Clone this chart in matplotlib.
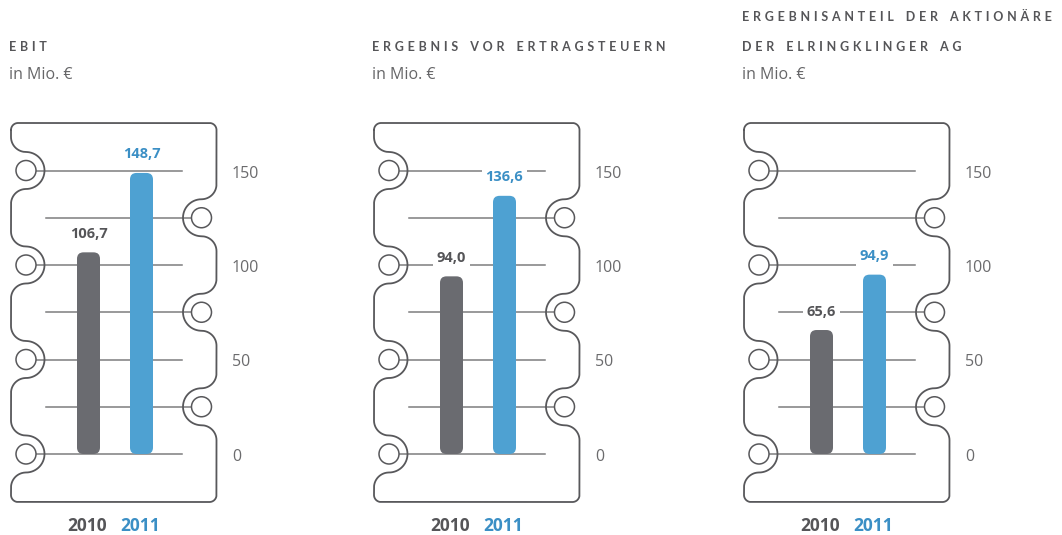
import numpy as np
import matplotlib
matplotlib.use("Agg")
import matplotlib.pyplot as plt
from matplotlib.patches import Circle, FancyBboxPatch

# chart data
titles = [["EBIT"],
          ["ERGEBNIS VOR ERTRAGSTEUERN"],
          ["ERGEBNISANTEIL DER AKTIONÄRE", "DER ELRINGKLINGER AG"]]
unit_label = "in Mio. €"
years = ["2010", "2011"]
values_2010 = [106.7, 94.0, 65.6]
values_2011 = [148.7, 136.6, 94.9]
major_ticks = [0, 50, 100, 150]
minor_rows = [25, 75, 125]

# styling
W, H = 1062, 535
S = 1.89                      # pixels per Mio. € on the value scale
ZERO_PX = 454                 # pixel row of the zero line
panel_left = [11, 374, 744]   # pixel x of each panel outline
DARK = "#6a6b70"
BLUE = "#4ea1d2"
BLUE_TXT = "#3b8fc5"
TXT = "#555558"
EDGE = "#58585b"
GRID = "#7d7d7f"

plt.rcParams["font.family"] = ["Open Sans", "DejaVu Sans"]

fig = plt.figure(figsize=(W / 100, H / 100), dpi=100)


def px(v):
    return v / S


def spaced(text):
    return "    ".join(" \u200a".join(w) for w in text.split(" "))


def notch(d, R, r, n=30):
    # notch on a left edge (edge at x=0) traversed upwards, centre at (d, 0)
    dy = np.sqrt((R + r) ** 2 - (d - r) ** 2)
    a1 = np.arctan2(dy, d - r)
    t1 = np.linspace(np.pi, a1, n)
    t2 = np.linspace(a1 - np.pi, np.pi - a1, 3 * n)
    t3 = np.linspace(-a1, -np.pi, n)
    pts = [np.c_[r + r * np.cos(t1), -dy + r * np.sin(t1)],
           np.c_[d + R * np.cos(t2), R * np.sin(t2)],
           np.c_[r + r * np.cos(t3), dy + r * np.sin(t3)]]
    return np.vstack(pts)


def outline(x0, x1, y0, y1, d, R, r, cr, left_rows, right_rows):
    seg = []
    arc = lambda cx, cy, a, b: np.c_[cx + cr * np.cos(np.linspace(a, b, 20)),
                                     cy + cr * np.sin(np.linspace(a, b, 20))]
    seg.append(arc(x0 + cr, y1 - cr, np.pi, np.pi / 2))
    seg.append(arc(x1 - cr, y1 - cr, np.pi / 2, 0))
    loc = notch(d, R, r)
    for yc in sorted(right_rows, reverse=True):
        seg.append(np.c_[x1 - loc[:, 0], yc - loc[:, 1]])
    seg.append(arc(x1 - cr, y0 + cr, 0, -np.pi / 2))
    seg.append(arc(x0 + cr, y0 + cr, -np.pi / 2, -np.pi))
    for yc in sorted(left_rows):
        seg.append(np.c_[x0 + loc[:, 0], yc + loc[:, 1]])
    seg.append(seg[0][:1])
    return np.vstack(seg)


for i, L in enumerate(panel_left):
    ax = fig.add_axes([(L - 10) / W, 0, 270 / W, 435 / H])
    ax.set_xlim(px(-10), px(260))
    ax.set_ylim(px(ZERO_PX - 535), px(ZERO_PX - 100))
    ax.set_aspect("auto")
    ax.axis("off")

    top = px(ZERO_PX - 123)
    bottom = px(ZERO_PX - 502)
    right = px(205.5)
    pts = outline(0, right, bottom, top, px(15), px(18.5), px(15), px(7),
                  major_ticks, minor_rows)
    ax.plot(pts[:, 0], pts[:, 1], color=EDGE, lw=1.3, clip_on=False, zorder=2)

    hole_r = px(10)
    for v in major_ticks:
        ax.add_patch(Circle((px(15), v), hole_r, fc="white", ec=EDGE, lw=1.1,
                            zorder=3, clip_on=False))
        ax.plot([px(25), px(171)], [v, v], color=GRID, lw=1.1, zorder=1)
        ax.text(px(221), v - px(3), str(v), ha="left", va="center",
                fontsize=11.5, color="#6b6b6d", clip_on=False)
    for v in minor_rows:
        ax.add_patch(Circle((right - px(15), v), hole_r, fc="white", ec=EDGE,
                            lw=1.1, zorder=3, clip_on=False))
        ax.plot([px(34.5), right - px(25)], [v, v], color=GRID, lw=1.1,
                zorder=1)

    centers = [px(77.5), px(130.5)]
    bw = px(23)
    for xc, val, col, tcol in [(centers[0], values_2010[i], DARK, TXT),
                               (centers[1], values_2011[i], BLUE, BLUE_TXT)]:
        ax.add_patch(FancyBboxPatch((xc - bw / 2, 0), bw, val,
                                    boxstyle=f"round,pad=0,rounding_size={px(6.5)}",
                                    fc=col, ec="none", zorder=4))
        ax.text(xc, val + px(18.5), f"{val:.1f}".replace(".", ","),
                ha="center", va="center", fontsize=10.5, fontweight="bold",
                color=tcol, zorder=5,
                bbox=dict(fc="white", ec="none", pad=2.5))

    for xc, yr, col in zip(centers, years, [TXT, BLUE_TXT]):
        ax.text(xc - px(1), px(ZERO_PX - 526), yr, ha="center", va="center",
                fontsize=12.5, fontweight="bold", color=col, clip_on=False)

    lines = titles[i]
    y_first = 47 - 30 * (len(lines) - 1)
    for k, line in enumerate(lines):
        fig.text((L - 2) / W, 1 - (y_first + 30 * k) / H, spaced(line),
                 family=["Lato", "DejaVu Sans"], fontsize=9.0,
                 fontweight="bold", color=TXT, ha="left", va="center")
    fig.text((L - 2) / W, 1 - 75 / H, unit_label,
             fontsize=11.5, color="#666668", ha="left", va="center")

fig.savefig("out.png", dpi=100, facecolor="white")
